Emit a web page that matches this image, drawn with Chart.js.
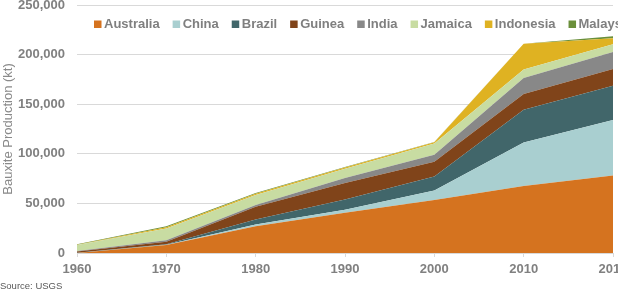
<!DOCTYPE html>
<html>
<head>
<meta charset="utf-8">
<script src="https://cdn.jsdelivr.net/npm/chart.js@4.4.1/dist/chart.umd.min.js"></script>
<style>
    html, body { margin: 0; padding: 0; background: #fff; overflow: hidden; }
    #wrap { position: relative; width: 700px; height: 295px; }
    #source {
        position: absolute; left: 0; top: 280px;
        font: 9.5px Arial, "Liberation Sans", sans-serif; color: #595959;
    }
</style>
</head>
<body>
<div id="wrap">
    <canvas id="bauxiteChart" width="700" height="295"></canvas>
    <div id="source">Source: USGS</div>
</div>
<script>
// Bauxite production by country (kt)
const years = ['1960', '1970', '1980', '1990', '2000', '2010', '2016'];
const australia = [100, 8000, 27000, 40500, 53500, 67600, 78000];
const china     = [0, 400, 1700, 3000, 9500, 43800, 56000];
const brazil    = [100, 500, 5000, 10500, 14000, 33000, 34500];
const guinea    = [1400, 2500, 13000, 16500, 15000, 16000, 17000];
const india     = [400, 1400, 1800, 5000, 7000, 16000, 17000];
const jamaica   = [6000, 12000, 10000, 9500, 11500, 8500, 8000];
const indonesia = [400, 1200, 1200, 1200, 1100, 26000, 6000];
const malaysia  = [500, 1000, 900, 400, 200, 100, 2000];
const yTicks = [0, 50000, 100000, 150000, 200000, 250000];

const series = [
    { label: 'Australia', data: australia, color: '#d5731f' },
    { label: 'China',     data: china,     color: '#a9cfd0' },
    { label: 'Brazil',    data: brazil,    color: '#41666a' },
    { label: 'Guinea',    data: guinea,    color: '#80441a' },
    { label: 'India',     data: india,     color: '#888888' },
    { label: 'Jamaica',   data: jamaica,   color: '#c8dca2' },
    { label: 'Indonesia', data: indonesia, color: '#dfb222' },
    { label: 'Malaysia',  data: malaysia,  color: '#6a8f3a' }
];

const FONT = 'Arial, "Liberation Sans", sans-serif';
Chart.defaults.font.family = FONT;

// Excel-style legend drawn over the top of the plot area
const topLegend = {
    id: 'topLegend',
    afterDraw(chart) {
        const ctx = chart.ctx;
        ctx.save();
        ctx.font = 'bold 13px ' + FONT;
        ctx.textBaseline = 'middle';
        let x = 94;
        const y = 24;
        chart.data.datasets.forEach(ds => {
            ctx.fillStyle = ds.backgroundColor;
            ctx.fillRect(x, y - 3.5, 7.5, 7.5);
            ctx.fillStyle = '#7f7f7f';
            ctx.fillText(ds.label, x + 10, y + 0.5);
            x += 10 + ctx.measureText(ds.label).width + 13;
        });
        ctx.restore();
    }
};

const ctx = document.getElementById('bauxiteChart').getContext('2d');
new Chart(ctx, {
    type: 'line',
    data: {
        labels: years,
        datasets: series.map((s, i) => ({
            label: s.label,
            data: s.data,
            backgroundColor: s.color,
            borderColor: 'transparent',
            borderWidth: 0,
            pointRadius: 0,
            tension: 0,
            fill: i === 0 ? 'origin' : '-1'
        }))
    },
    options: {
        responsive: false,
        animation: false,
        layout: { padding: { left: 0, right: 87, top: 5, bottom: 0 } },
        plugins: {
            legend: { display: false },
            tooltip: { enabled: false }
        },
        scales: {
            x: {
                offset: false,
                grid: { drawOnChartArea: false, drawTicks: true, tickLength: 4, color: '#d9d9d9' },
                border: { display: true, color: '#d9d9d9' },
                ticks: {
                    color: '#808080',
                    font: { size: 13, weight: 'bold' },
                    padding: 5,
                    maxRotation: 0,
                    autoSkip: false
                },
                afterFit: scale => {
                    scale.height = 42;
                    scale.paddingLeft = 0;
                    scale.paddingRight = 0;
                }
            },
            y: {
                stacked: true,
                min: yTicks[0],
                max: yTicks[yTicks.length - 1],
                afterBuildTicks: scale => {
                    scale.ticks = yTicks.map(v => ({ value: v }));
                },
                grid: { color: '#d9d9d9', drawTicks: false },
                border: { display: false },
                ticks: {
                    color: '#808080',
                    font: { size: 13, weight: 'bold' },
                    padding: 12,
                    callback: v => v.toLocaleString('en-US')
                },
                title: {
                    display: true,
                    text: 'Bauxite Production (kt)',
                    color: '#8a8a8a',
                    font: { size: 13 },
                    padding: { top: 1, bottom: 0 }
                },
                afterFit: scale => {
                    scale.width = 77;
                    scale.paddingTop = 0;
                    scale.paddingBottom = 0;
                }
            }
        }
    },
    plugins: [topLegend]
});
</script>
</body>
</html>
